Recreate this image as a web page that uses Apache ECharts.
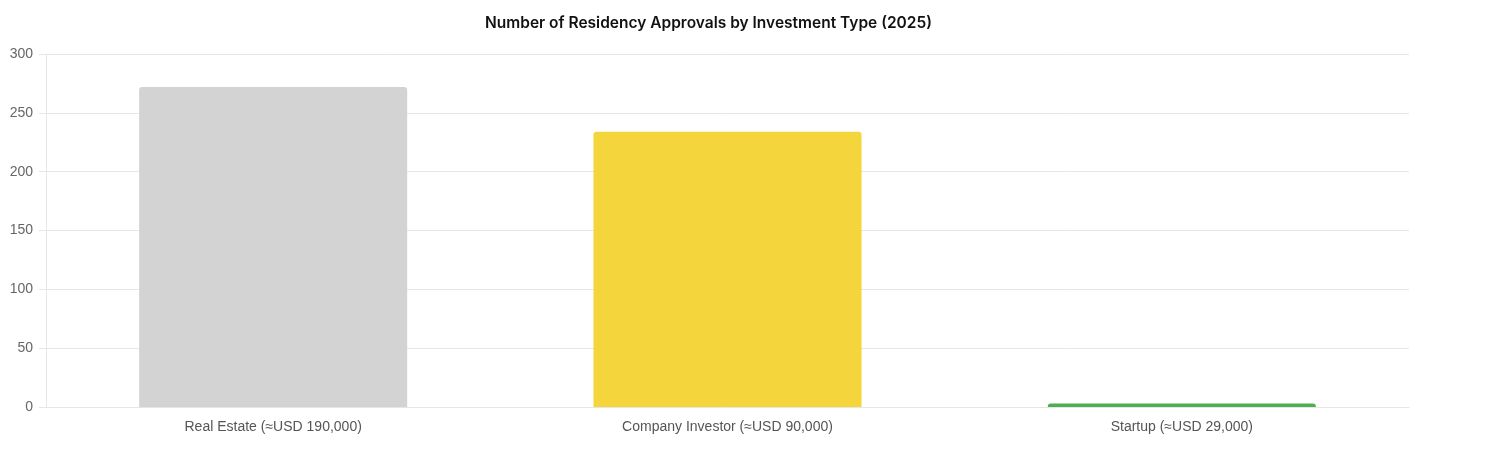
<!DOCTYPE html>
<html lang="en">
<head>
<meta charset="utf-8">
<title>Residency Approvals</title>
<script src="https://cdn.jsdelivr.net/npm/echarts@6/dist/echarts.min.js"></script>
<style>
  html, body { margin: 0; padding: 0; background: #fff; }
  #chart { width: 1494px; height: 474px; }
</style>
</head>
<body>
<div id="chart"></div>
<script>
// data
var categories = ['Real Estate (≈USD 190,000)', 'Company Investor (≈USD 90,000)', 'Startup (≈USD 29,000)'];
var approvals = [272, 234, 3];
var barColors = ['#d3d3d3', '#f4d63c', '#4caf50'];

var myChart = echarts.init(document.getElementById('chart'));
var option = {
    animation: false,
    title: {
        text: 'Number of Residency Approvals by Investment Type (2025)',
        left: 480,
        top: 10,
        textStyle: { fontFamily: 'Inter', fontSize: 15.5, fontWeight: 600, color: '#111' }
    },
    grid: { left: 46, right: 85, top: 54, bottom: 67 },
    xAxis: {
        type: 'category',
        data: categories,
        axisLine: { lineStyle: { color: '#e6e6e6' } },
        axisTick: { show: false },
        axisLabel: { color: '#555', fontSize: 14, fontFamily: 'Liberation Sans', margin: 13 }
    },
    yAxis: {
        type: 'value',
        min: 0,
        max: 300,
        interval: 50,
        axisLine: { show: true, lineStyle: { color: '#e6e6e6' } },
        axisTick: { show: true, length: 7, lineStyle: { color: '#e6e6e6' } },
        splitLine: { lineStyle: { color: '#e6e6e6' } },
        axisLabel: { color: '#666', fontSize: 14, fontFamily: 'Liberation Sans', margin: 13 }
    },
    series: [{
        type: 'bar',
        barWidth: '59%',
        data: approvals.map(function (v, i) {
            return { value: v, itemStyle: { color: barColors[i] } };
        }),
        itemStyle: { borderRadius: [3, 3, 0, 0] }
    }]
};
myChart.setOption(option);
</script>
</body>
</html>
